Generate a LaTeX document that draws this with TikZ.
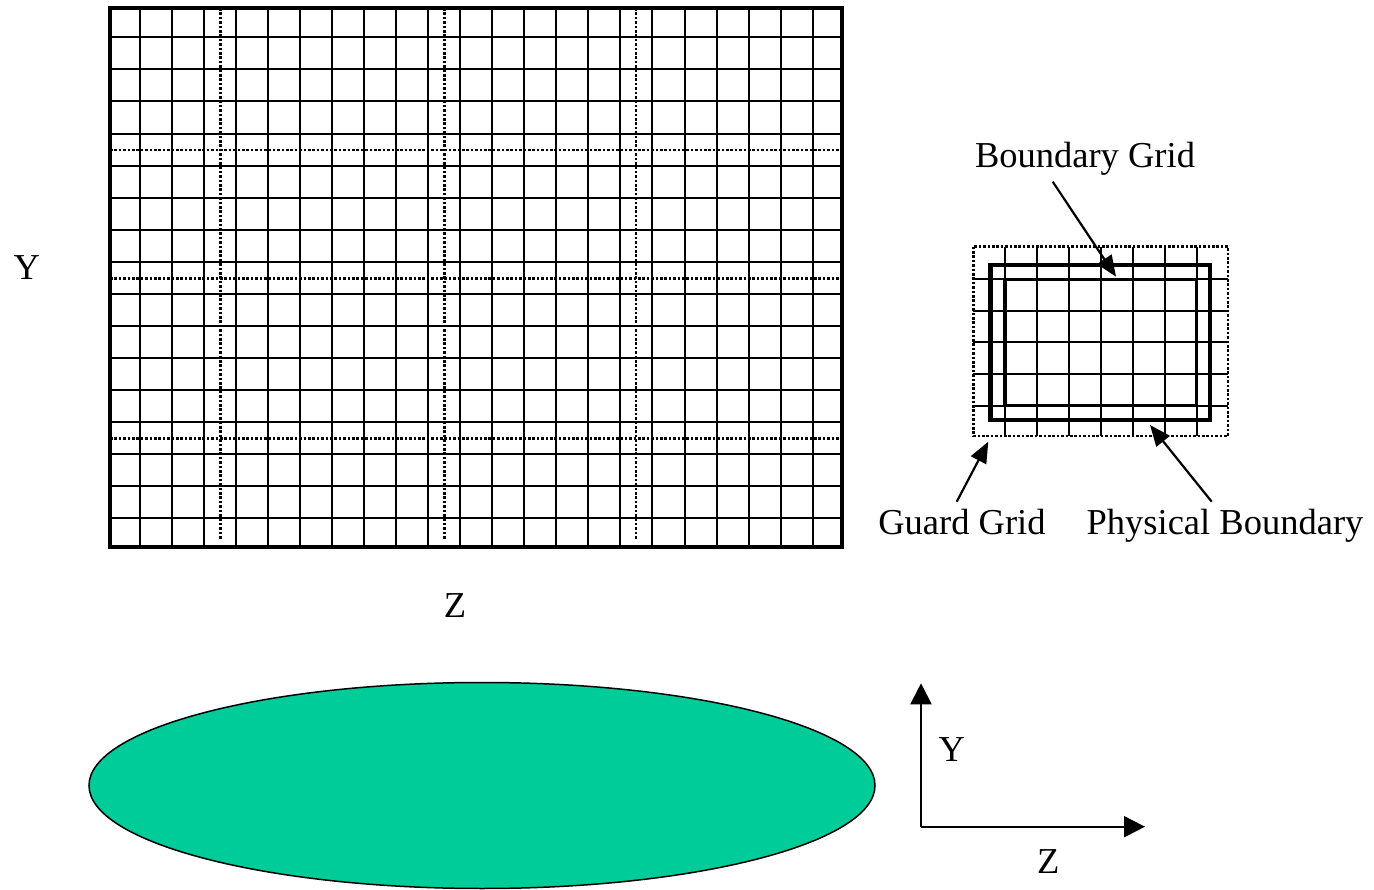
\documentclass[tikz,border=0pt]{standalone}
\usepackage{fontspec}
\setmainfont{Liberation Serif}
\usetikzlibrary{arrows.meta}
\definecolor{ellgreen}{RGB}{0,204,153}
\begin{document}
\begin{tikzpicture}[x=1pt,y=-1pt,
  gridline/.style={line width=2pt},
  frameline/.style={line width=4.5pt},
  thickrect/.style={line width=4.8pt},
  midrect/.style={line width=3.4pt},
  dotline/.style={line width=2.6pt, dash pattern=on 2.6pt off 1.8pt},
  lbl/.style={font=\fontsize{36.5}{40}\selectfont, inner sep=0pt, anchor=base},
  callout/.style={line width=2.2pt, -{Triangle[length=21pt,width=17pt]}},
  axisarrow/.style={line width=2pt, -{Triangle[length=21pt,width=21pt]}}]
\useasboundingbox (0,0) rectangle (1374,890);
% ---------- big grid ----------
\foreach \k in {0,...,21}
  \draw[gridline] ({140+32.03*\k},8) -- ({140+32.03*\k},547);
\foreach \k in {0,...,15}
  \draw[gridline] (110,{37.3+32.07*\k}) -- (842,{37.3+32.07*\k});
\foreach \xx in {220.7,444.3,636}
  \draw[dotline] (\xx,8) -- (\xx,540);
\foreach \yy in {150,278.3,438.3}
  \draw[dotline] (110,\yy) -- (840,\yy);
\draw[frameline] (110,8) rectangle (842,547);
% ---------- small grid ----------
\draw[dotline] (973.3,246.7) rectangle (1228,436);
\foreach \k in {0,...,6}
  \draw[gridline] ({1005+31.95*\k},246.7) -- ({1005+31.95*\k},436);
\foreach \k in {0,...,4}
  \draw[gridline] (973.3,{279.3+31.6*\k}) -- (1228,{279.3+31.6*\k});
\draw[thickrect] (990.7,265) rectangle (1210,420);
\draw[midrect] (1005,279.3) rectangle (1196.7,405.7);
% ---------- labels ----------
\node[lbl] (ylbl) at (26.7,280) {Y};
\node[lbl] (zlbl) at (455,617) {Z};
\node[lbl] (bglbl) at (1085,168) {Boundary Grid};
\node[lbl] (gglbl) at (962,534) {Guard Grid};
\node[lbl] (pblbl) at (1225,534) {Physical Boundary};
% ---------- callout arrows ----------
\coordinate (bgs) at (1052.7,181.7);
\coordinate (bgt) at (1116,276.7);
\coordinate (ggs) at (956.7,501.7);
\coordinate (ggt) at (988.3,441.7);
\coordinate (pbs) at (1211.7,501.7);
\coordinate (pbt) at (1150,425);
\draw[callout] (bgs) -- (bgt);
\draw[callout] (ggs) -- (ggt);
\draw[callout] (pbs) -- (pbt);
% ---------- ellipse ----------
\draw[fill=ellgreen, line width=1.5pt] (482,785.5) ellipse [x radius=393, y radius=103];
% ---------- axes ----------
\coordinate (orig) at (921,826.7);
\coordinate (ytip) at (921,683.3);
\coordinate (ztip) at (1145,826.7);
\draw[axisarrow] (orig) -- (ytip);
\draw[axisarrow] (orig) -- (ztip);
\node[lbl] (yax) at (951.7,761) {Y};
\node[lbl] (zax) at (1048.3,873) {Z};
\end{tikzpicture}
\end{document}
